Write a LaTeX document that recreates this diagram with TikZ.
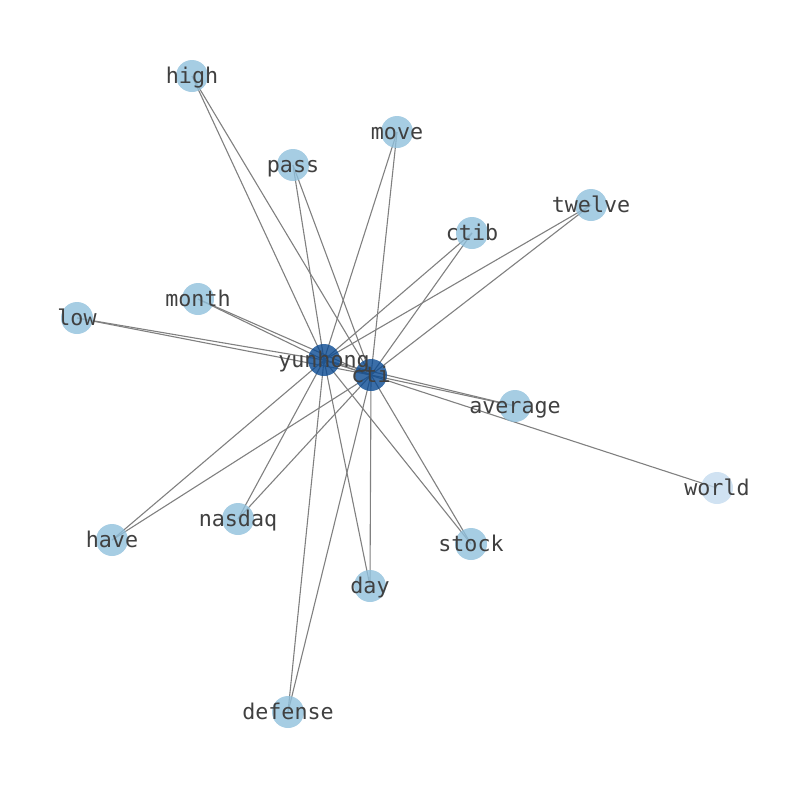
\documentclass[tikz,border=0pt]{standalone}
\usepackage{fontspec}
\setmonofont{DejaVu Sans Mono}
\usetikzlibrary{backgrounds}
\definecolor{lightnode}{HTML}{90C0DC}
\definecolor{darknode}{HTML}{0A4A92}
\definecolor{palenode}{HTML}{C4DBEF}
\definecolor{edgegray}{HTML}{808080}
\definecolor{txtgray}{HTML}{404040}
\begin{document}
\begin{tikzpicture}[x=1pt,y=-1pt,
  nd/.style={circle, minimum size=32pt, inner sep=0pt, fill=lightnode, fill opacity=0.8, draw=none},
  hub/.style={nd, fill=darknode},
  pale/.style={nd, fill=palenode},
  lbl/.style={font=\fontsize{21.7}{24}\ttfamily, text=txtgray, inner sep=0pt, text height=16.5pt, text depth=1.5pt, anchor=center},
  edge/.style={draw=edgegray, line width=1.1pt}]
\useasboundingbox (0,0) rectangle (794,790);
\node[nd] (high) at (192,76) {};
\node[nd] (move) at (397,132) {};
\node[nd] (pass) at (293,165) {};
\node[nd] (twelve) at (591,205) {};
\node[nd] (ctib) at (472,233) {};
\node[nd] (month) at (198,299) {};
\node[nd] (low) at (77,318) {};
\node[hub] (yunhong) at (324,360) {};
\node[hub] (cti) at (371,375) {};
\node[nd] (average) at (515,406) {};
\node[pale] (world) at (717,488) {};
\node[nd] (have) at (112,540) {};
\node[nd] (nasdaq) at (238,519) {};
\node[nd] (stock) at (471,544) {};
\node[nd] (day) at (370,586) {};
\node[nd] (defense) at (288,712) {};
\begin{scope}[on background layer]
\draw[edge] (yunhong.center) -- (cti.center);
\foreach \w in {high,move,pass,twelve,ctib,month,low,average,have,nasdaq,stock,day,defense}{
  \draw[edge] (yunhong.center) -- (\w.center);
  \draw[edge] (cti.center) -- (\w.center);
}
\draw[edge] (yunhong.center) -- (world.center);
\end{scope}
\foreach \w in {high,move,pass,twelve,ctib,month,low,yunhong,cti,average,world,have,nasdaq,stock,day,defense}{
  \node[lbl] at (\w) {\w};
}
\end{tikzpicture}
\end{document}
